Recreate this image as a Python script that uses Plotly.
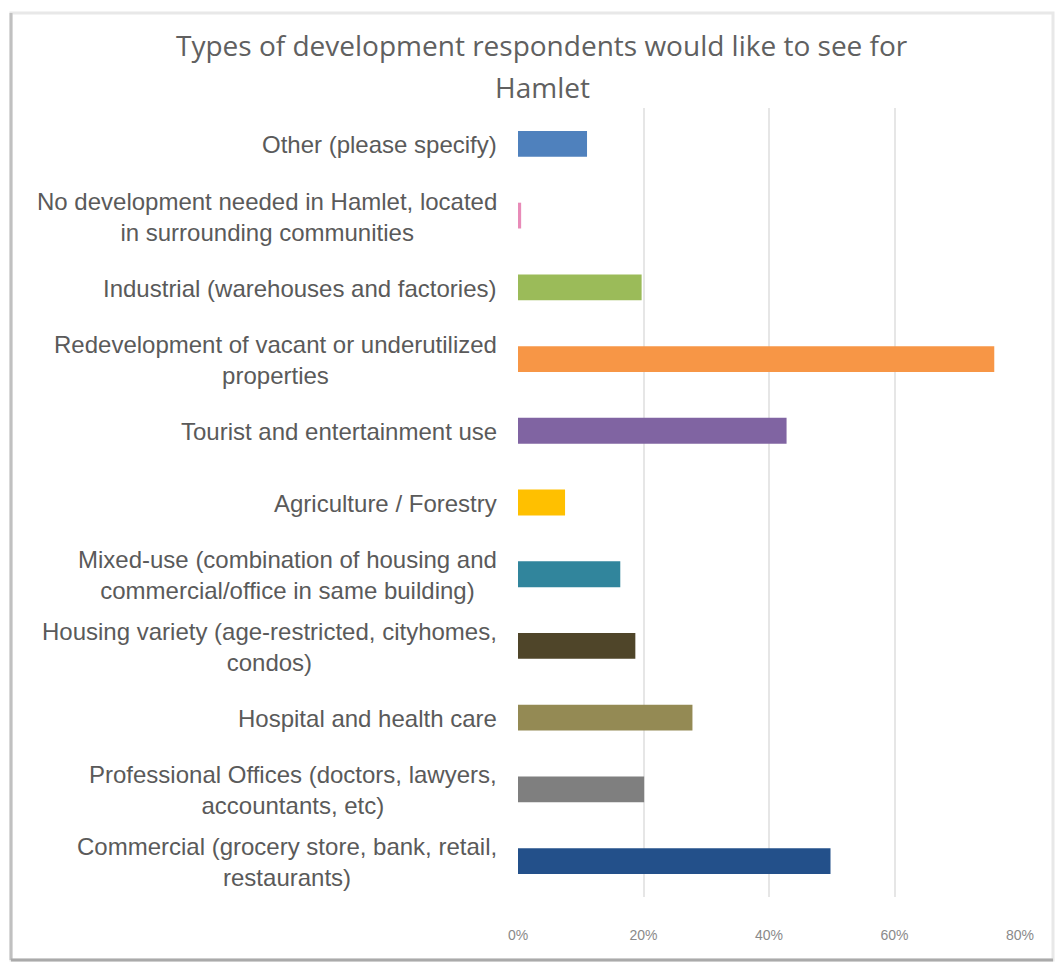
import plotly.graph_objects as go

# Survey categories, listed bottom to top as they appear on the chart
categories = [
    "Commercial (grocery store, bank, retail,<br>restaurants)",
    "Professional Offices (doctors, lawyers,<br>accountants, etc)",
    "Hospital and health care",
    "Housing variety (age-restricted, cityhomes,<br>condos)",
    "Mixed-use (combination of housing and<br>commercial/office in same building)",
    "Agriculture / Forestry",
    "Tourist and entertainment use",
    "Redevelopment of vacant or underutilized<br>properties",
    "Industrial (warehouses and factories)",
    "No development needed in Hamlet, located<br>in surrounding communities",
    "Other (please specify)",
]

# Share of respondents selecting each type
shares = [0.498, 0.201, 0.278, 0.187, 0.163, 0.075, 0.428, 0.759, 0.197, 0.005, 0.110]

bar_colors = [
    "#23508a", "#7f7f7f", "#948a54", "#4f4529", "#31859c", "#ffc000",
    "#8064a2", "#f79646", "#9bbb59", "#e88bb8", "#4f81bd",
]

x_ticks = [0, 0.2, 0.4, 0.6, 0.8]
x_tick_labels = ["0%", "20%", "40%", "60%", "80%"]

title_lines = ["Types of development respondents would like to see for", "Hamlet"]

W, H = 1058, 964
L, R, T, B = 518, 38, 108, 67
PW, PH = W - L - R, H - T - B


def px_x(px):
    """Horizontal page pixel -> paper coordinate of the plot area."""
    return (px - L) / PW


def px_y(py):
    """Vertical page pixel (from top) -> paper coordinate of the plot area."""
    return (H - B - py) / PH


fig = go.Figure(
    go.Bar(
        x=shares,
        y=list(range(len(categories))),
        orientation="h",
        marker=dict(color=bar_colors, line=dict(width=0)),
        width=0.36,
        hoverinfo="x",
    )
)

# Category labels: centred multi-line text, right edge just left of the plot
for i, label in enumerate(categories):
    fig.add_annotation(
        x=px_x(499), xref="paper", xanchor="right",
        y=i, yref="y", yanchor="middle", yshift=-1,
        text=label, showarrow=False, align="center",
        font=dict(family="Liberation Sans, Arial, sans-serif", size=24, color="#5a5a5a"),
    )

# Chart title, two centred lines
for line, cy in zip(title_lines, [45, 87]):
    fig.add_annotation(
        x=px_x(542), xref="paper", xanchor="center",
        y=px_y(cy), yref="paper", yanchor="middle",
        text=line, showarrow=False,
        font=dict(family="Open Sans, sans-serif", size=28, color="#606060"),
    )

# Outer chart frame with a soft shadow on the left and bottom edges
fx0, fx1, fy0, fy1 = px_x(11), px_x(1053), px_y(960), px_y(13)
fig.add_shape(type="rect", xref="paper", yref="paper",
              x0=fx0, x1=fx1, y0=fy0, y1=fy1,
              line=dict(color="#e8e8e8", width=3), layer="below")
fig.add_shape(type="line", xref="paper", yref="paper",
              x0=fx0, x1=fx0, y0=fy0, y1=fy1,
              line=dict(color="#c0c0c0", width=3))
fig.add_shape(type="line", xref="paper", yref="paper",
              x0=fx0, x1=fx1, y0=fy0, y1=fy0,
              line=dict(color="#aaaaaa", width=3))

fig.update_layout(
    width=W, height=H,
    margin=dict(l=L, r=R, t=T, b=B),
    paper_bgcolor="white", plot_bgcolor="white",
    showlegend=False,
    xaxis=dict(
        range=[0, 0.8], tickvals=x_ticks, ticktext=x_tick_labels,
        showgrid=True, gridcolor="#e6e6e6", gridwidth=1.5,
        zeroline=False, showline=False, ticks="",
        ticklabelstandoff=28,
        tickfont=dict(family="Liberation Sans, Arial, sans-serif", size=14, color="#8a8a8a"),
        fixedrange=True,
    ),
    yaxis=dict(
        range=[-0.5, len(categories) - 0.5], showticklabels=False,
        showgrid=False, zeroline=False, showline=False, ticks="",
        fixedrange=True,
    ),
)

fig.write_html("out.html")
